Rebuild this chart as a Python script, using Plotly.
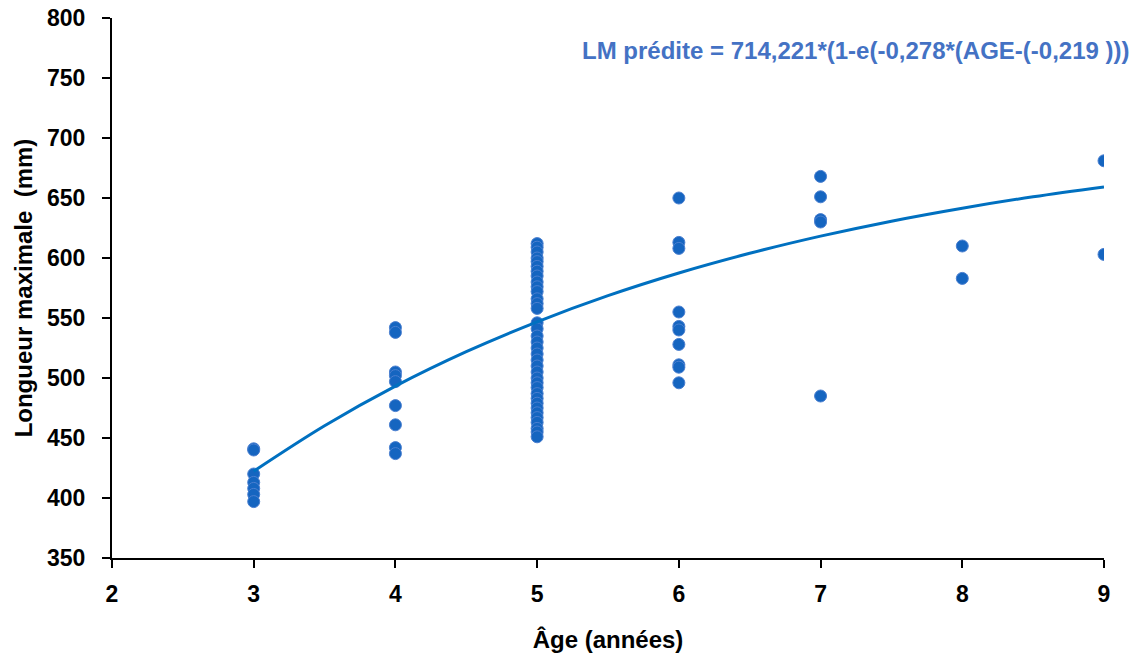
import plotly.graph_objects as go

# Observed data (age in years, maximum length in mm)
age3 = [441, 440, 420, 413, 408, 403, 397]
age4 = [542, 538, 505, 502, 497, 477, 461, 442, 437]
age5 = [612, 609, 605, 600, 597, 593, 589, 585, 580, 576, 572, 566, 562, 558,
        546, 541, 535, 530, 525, 520, 515, 510, 505, 500, 496, 492, 487, 483,
        479, 475, 471, 467, 463, 458, 455, 451]
age6 = [650, 613, 608, 555, 543, 540, 528, 511, 509, 496]
age7 = [668, 651, 632, 630, 485]
age8 = [610, 583]
age9 = [681, 603]

groups = {3: age3, 4: age4, 5: age5, 6: age6, 7: age7, 8: age8, 9: age9}

# Fitted curve values (von Bertalanffy fit)
curve_age = [3, 3.5, 4, 4.5, 5, 5.5, 6, 6.5, 7, 7.5, 8, 8.5, 9]
curve_len = [422.3, 460.2, 493.2, 521.9, 546.8, 568.6, 587.5, 603.9, 618.2, 630.7, 641.5, 651.0, 659.2]

equation_text = "LM prédite = 714,221*(1-e(-0,278*(AGE-(-0,219 )))"

x_pts, y_pts = [], []
for a, vals in groups.items():
    x_pts += [a] * len(vals)
    y_pts += vals

fig = go.Figure()
fig.add_trace(go.Scatter(
    x=x_pts, y=y_pts, mode="markers",
    marker=dict(size=12, color="#1565C0", line=dict(color="#4A7FD0", width=1)),
    showlegend=False,
))
fig.add_trace(go.Scatter(
    x=curve_age, y=curve_len, mode="lines",
    line=dict(color="#0070C0", width=3, shape="spline"),
    showlegend=False,
))

FAM = "Liberation Sans, Arial, sans-serif"

fig.update_layout(
    width=1138, height=655,
    margin=dict(l=112, r=34, t=18, b=97),
    plot_bgcolor="white", paper_bgcolor="white",
    font=dict(family=FAM, size=20, color="black"),
    xaxis=dict(
        range=[2, 9], dtick=1, showgrid=False, zeroline=False, automargin=False,
        showline=True, linecolor="black", linewidth=2,
        ticks="outside", ticklen=8, tickwidth=2, tickcolor="black",
        ticklabelstandoff=6,
        tickfont=dict(family=FAM, size=23, color="black", weight="bold"),
        title=dict(text="<b>Âge (années)</b>", standoff=26,
                   font=dict(family=FAM, size=24, color="black")),
    ),
    yaxis=dict(
        range=[350, 800], dtick=50, showgrid=False, zeroline=False, automargin=False,
        showline=True, linecolor="black", linewidth=2,
        ticks="outside", ticklen=8, tickwidth=2, tickcolor="black",
        ticklabelstandoff=12,
        tickfont=dict(family=FAM, size=23, color="black", weight="bold"),
        title=dict(text="<b>Longueur maximale  (mm)</b>", standoff=8,
                   font=dict(family=FAM, size=24, color="black")),
    ),
    annotations=[dict(
        text="<b>" + equation_text + "</b>",
        xref="paper", yref="paper", x=1.0285, y=0.939,
        xanchor="right", yanchor="middle", showarrow=False,
        font=dict(family=FAM, size=24, color="#4472C4"),
    )],
)

fig.write_html("out.html")
